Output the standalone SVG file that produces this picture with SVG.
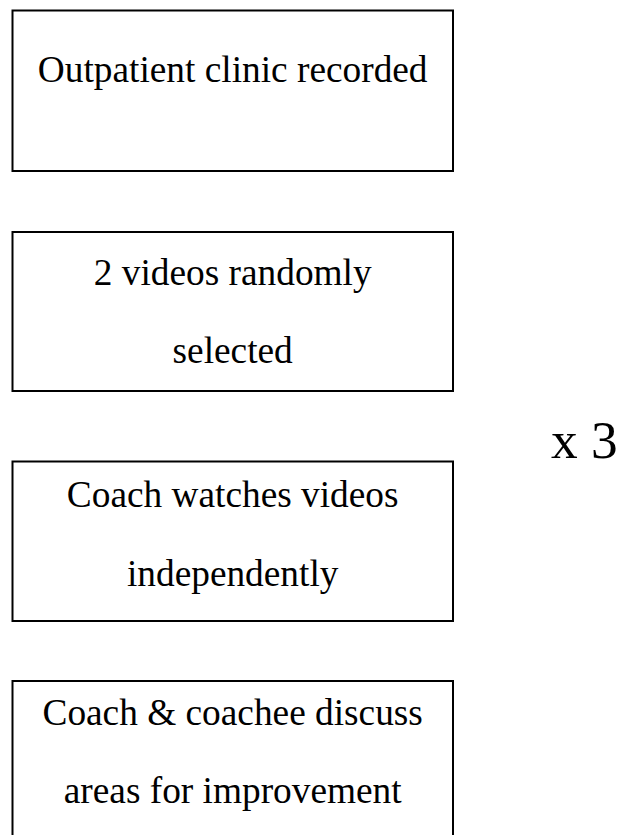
<svg xmlns="http://www.w3.org/2000/svg" width="624" height="835" viewBox="0 0 624 835">
<style>
.box{fill:#fff;stroke:#000;stroke-width:2}
.t{font-family:"Liberation Serif","Times New Roman",serif;font-size:37.33px;fill:#000;text-anchor:middle}
.big{font-family:"Liberation Serif","Times New Roman",serif;font-size:53.33px;fill:#000}
</style>
<rect width="624" height="835" fill="#fff"/>
<g id="connectors"></g>
<g id="node1">
<rect class="box" x="12.5" y="10.5" width="440.5" height="160.5"/>
<text class="t" x="232.7" y="82">Outpatient clinic recorded</text>
</g>
<g id="node2">
<rect class="box" x="12.5" y="232" width="440.5" height="159"/>
<text class="t" x="232.7" y="285">2 videos randomly</text>
<text class="t" x="232.7" y="363">selected</text>
</g>
<g id="node3">
<rect class="box" x="12.5" y="461.5" width="440.5" height="159.5"/>
<text class="t" x="232.7" y="507">Coach watches videos</text>
<text class="t" x="232.7" y="586">independently</text>
</g>
<g id="node4">
<rect class="box" x="12.5" y="681" width="440.5" height="170"/>
<text class="t" x="232.7" y="725">Coach &amp; coachee discuss</text>
<text class="t" x="232.7" y="803">areas for improvement</text>
</g>
<g id="repeat">
<text class="big" x="551" y="458">x 3</text>
</g>
</svg>
